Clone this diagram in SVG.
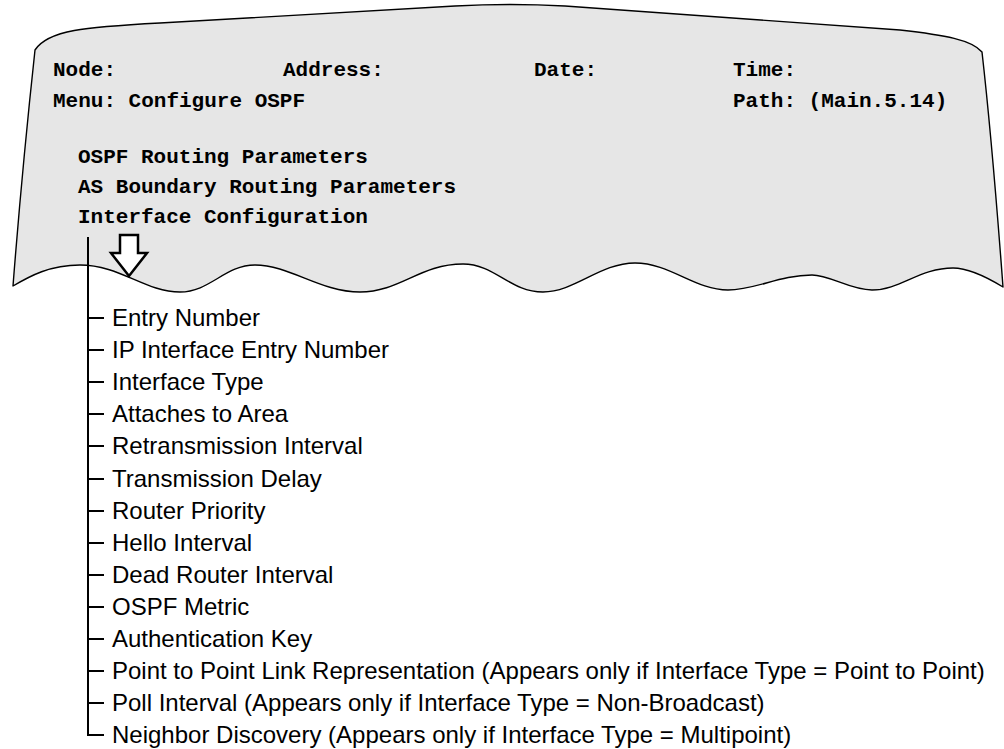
<svg xmlns="http://www.w3.org/2000/svg" width="1004" height="749" viewBox="0 0 1004 749">
  <style>
    .screen { fill: #e6e6e6; stroke: #000; stroke-width: 1.4; stroke-linejoin: round; }
    .mono { font-family: "Courier New", "Liberation Mono", monospace; font-weight: bold; font-size: 21px; fill: #000; }
    .item { font-family: "Liberation Sans", Arial, sans-serif; font-size: 24px; fill: #000; }
    .tree { fill: none; stroke: #000; stroke-width: 2; }
    .arrow { fill: #fff; stroke: #000; stroke-width: 2.5; stroke-linejoin: miter; }
  </style>

  <!-- terminal screen with torn bottom edge -->
  <g id="screen">
    <path class="screen" d="M35,50
      C48,30 85,27 160,23
      L455,6 Q510,3 565,6
      L900,30 C945,35 972,40 982,52
      Q992,140 1003,287
      C985,276 968,268 953,268
      C920,268 900,290 872,290
      C850,290 830,275 812,275
      C780,275 755,290 728,290
      C695,290 670,263 635,263
      C600,263 575,292 543,292
      C510,292 495,264 463,264
      C420,264 400,292 360,292
      C320,292 290,265 255,265
      C225,265 210,292 180,292
      C145,292 120,265 80,265
      C50,265 30,276 13,286
      Q22,170 35,50 Z"/>
    <text class="mono" x="53" y="76">Node:</text>
    <text class="mono" x="283" y="76">Address:</text>
    <text class="mono" x="534" y="76">Date:</text>
    <text class="mono" x="733" y="76">Time:</text>
    <text class="mono" x="53" y="107">Menu: Configure OSPF</text>
    <text class="mono" x="733" y="107">Path: (Main.5.14)</text>
    <text class="mono" x="78" y="163">OSPF Routing Parameters</text>
    <text class="mono" x="78" y="193">AS Boundary Routing Parameters</text>
    <text class="mono" x="78" y="223">Interface Configuration</text>
  </g>

  <!-- hollow down arrow -->
  <g id="arrow">
    <polygon class="arrow" points="120,235 138,235 138,253 147,253 129,276 111,253 120,253"/>
  </g>

  <!-- tree connectors -->
  <g id="connectors">
    <path class="tree" d="M88,237 V735 H104
      M88,318 H104 M88,350 H104 M88,382 H104 M88,414 H104
      M88,446 H104 M88,479 H104 M88,511 H104 M88,543 H104
      M88,575 H104 M88,607 H104 M88,639 H104 M88,671 H104
      M88,703 H104"/>
  </g>

  <!-- parameter list -->
  <g id="items">
    <text class="item" x="112" y="326">Entry Number</text>
    <text class="item" x="112" y="358">IP Interface Entry Number</text>
    <text class="item" x="112" y="390">Interface Type</text>
    <text class="item" x="112" y="422">Attaches to Area</text>
    <text class="item" x="112" y="454">Retransmission Interval</text>
    <text class="item" x="112" y="487">Transmission Delay</text>
    <text class="item" x="112" y="519">Router Priority</text>
    <text class="item" x="112" y="551">Hello Interval</text>
    <text class="item" x="112" y="583">Dead Router Interval</text>
    <text class="item" x="112" y="615">OSPF Metric</text>
    <text class="item" x="112" y="647">Authentication Key</text>
    <text class="item" x="112" y="679">Point to Point Link Representation (Appears only if Interface Type = Point to Point)</text>
    <text class="item" x="112" y="711">Poll Interval (Appears only if Interface Type = Non-Broadcast)</text>
    <text class="item" x="112" y="743">Neighbor Discovery (Appears only if Interface Type = Multipoint)</text>
  </g>
</svg>
